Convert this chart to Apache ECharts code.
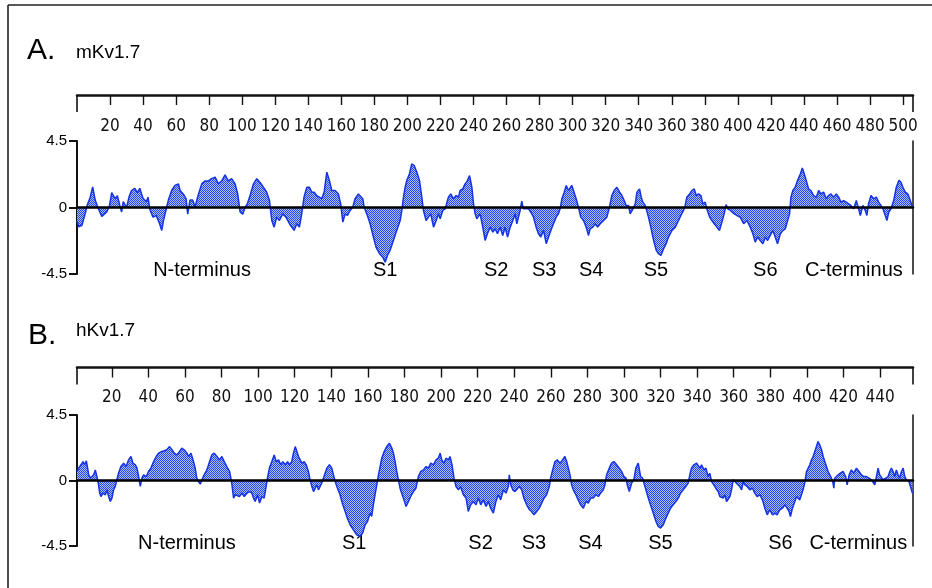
<!DOCTYPE html>
<html><head><meta charset="utf-8">
<script src="https://cdn.jsdelivr.net/npm/echarts@6/dist/echarts.min.js"></script>
<style>html,body{margin:0;padding:0;background:#fff}#c{width:932px;height:588px}</style>
</head><body><div id="c"></div>
<script>
// ---------- DATA ----------
const titleA = 'mKv1.7', titleB = 'hKv1.7';
const rangeA = [0, 506], rangeB = [1, 458];
const ticksA = [20,40,60,80,100,120,140,160,180,200,220,240,260,280,300,320,340,360,380,400,420,440,460,480,500];
const ticksB = [20,40,60,80,100,120,140,160,180,200,220,240,260,280,300,320,340,360,380,400,420,440];
const segNames = ['N-terminus','S1','S2','S3','S4','S5','S6','C-terminus'];
const segPosA = [75.7,186.5,253.7,282.8,311.2,350.4,416.6,470.2];
const segPosB = [61.1,152.5,221.6,250.8,281.7,319.9,385.5,428.1];
// hydropathy profile [residue, score]
const profileA = [[0,-0.9],[1,-1.3],[3,-1.2],[5,-0.4],[6,0.1],[8,0.7],[9.5,1.4],[11,0.5],[13,-0.1],[15,-0.6],[16,-0.7],[18,-0.3],[19.6,0.1],[21,1.0],[23,0.6],[24.4,0.8],[26,0.1],[27,-0.3],[28,0.4],[30,0.0],[31.7,0.8],[33,1.15],[35,1.3],[36.5,1.0],[38,1.3],[40,0.6],[42,0.4],[43,0.7],[44,-0.1],[46,-0.65],[48,-0.55],[50,-1.1],[51.3,-1.55],[52.3,-0.9],[54,-0.1],[55.3,0.5],[57.3,1.15],[59.3,1.5],[61.4,1.6],[62.4,1.15],[64.4,0.9],[66,0.6],[67,-0.45],[68.4,0.5],[70,0.5],[71.5,0.05],[73.5,0.9],[75.5,1.6],[77.5,1.8],[79.5,1.8],[81.5,1.95],[83.6,2.05],[85.6,1.6],[87.6,1.8],[89.6,2.2],[91.6,1.8],[93.6,1.95],[95.7,1.6],[97.3,0.9],[98.7,-0.3],[100.3,-0.45],[101.7,0.0],[103.1,0.25],[104.7,0.8],[106.8,1.6],[108.8,1.95],[110.8,1.7],[112.8,1.37],[114.8,1.04],[116.5,0.47],[117.9,-0.88],[119.3,-1.33],[120.9,-0.65],[122.5,-0.88],[124.5,-0.43],[126.5,-0.65],[128.6,-1.1],[130,-1.33],[131.4,-1.55],[133,-1.1],[134.6,-1.33],[136,-0.43],[137.4,0.7],[139.1,1.37],[140.7,1.37],[142.1,1.04],[143.5,1.04],[145.1,0.81],[146.7,0.7],[148.1,0.59],[149.6,1.04],[151.2,2.39],[152.8,1.82],[154.2,1.15],[156.2,1.15],[158.2,0.92],[159.6,0.25],[160.9,-0.99],[162.3,-0.43],[163.7,-0.54],[165.3,-0.2],[166.9,0.02],[168.3,0.59],[170.3,0.92],[171.3,0.81],
[173,0.59],[173.8,0.02],[175.4,-0.43],[177.4,-1.1],[179.4,-2.0],[181,-2.68],[183.1,-3.13],[185.1,-3.36],[186.5,-3.7],[187.9,-3.25],[189.5,-2.9],[191.5,-2.23],[193.5,-1.55],[195.6,-0.88],[196.6,-0.2],[197.6,0.7],[198.6,1.37],[199.6,1.82],[201.2,2.27],[202.6,2.95],[204.1,2.84],[205.7,2.39],[207.3,1.82],[208.7,0.7],[209.7,-0.2],[211.3,-0.88],[212.7,-0.65],[214.1,-0.43],[215.8,-1.33],[217.4,-0.88],[218.8,-0.43],[219.8,-0.77],[221.4,-0.2],[222.8,-0.09],[223.8,0.02],[224.8,0.7],[226.2,0.92],[227.9,0.59],[229.5,0.81],[230.9,0.7],[231.9,1.15],[233.5,1.26],[234.9,1.6],[236.3,1.82],[237.6,2.16],[239,1.37],[240,0.25],[241,-0.43],[242,-0.77],[244,-0.43],[245.6,-1.33],[247,-2.23],[248.4,-1.78],[250.1,-1.33],[251.7,-1.67],[253.1,-1.44],[254.5,-1.78],[256.1,-1.33],[257.7,-1.89],[259.1,-1.33],[260.6,-2.0],[262.2,-1.33],[263.8,-0.88],[265.2,-0.43],[266.2,-1.1],[267.2,-0.65],[268.2,-0.2],[269.2,0.43],[270.2,-0.09],[271.3,-0.2],[273.3,-0.09],[274.7,-0.32],[276.3,-0.65],[277.9,-1.33],[279.3,-1.78],[280.7,-2.0],[282.4,-1.55],[284,-2.45],[285.4,-2.0],[286.8,-1.55],[288.4,-1.1],[290,-0.65],[291.4,-0.43],[292.4,-0.09],[293.5,0.59],[294.9,1.04],[296.1,1.49],[297.5,1.15],[299.5,1.49],[300.5,1.15],[302.1,0.59],[303.5,0.02],[304.9,-0.65],[306.6,-0.88],[308.2,-1.33],[309.6,-1.89],[310.6,-1.44],[312.2,-1.33],[313.6,-1.1],[315.1,-1.33],[316.7,-1.1],[318.7,-0.88],[320.7,-0.65],[322.3,0.02],[323.7,0.81],[325.1,1.15],[326.8,1.37],[328.4,1.04],[329.8,0.81],[331.2,0.47],[332.4,0.14],[333.8,0.14],[334.8,-0.43],[336.5,-0.09],[337.9,0.25],[338.9,1.04],[340.5,1.26],
[341.5,0.7],[342.5,0.36],[343.9,0.14],[344.5,-0.09],[345.9,-0.65],[347.3,-1.33],[349,-2.23],[350.6,-2.9],[352,-3.13],[353.4,-3.25],[355,-2.8],[356.6,-2.45],[358,-2.0],[360.1,-1.55],[362.1,-1.33],[364.1,-0.88],[365.5,-0.54],[367.1,-0.2],[368.1,0.14],[369.1,0.7],[370.8,0.92],[372.2,1.15],[373.6,1.26],[374.8,0.81],[376.2,0.92],[377.6,0.81],[378.8,0.25],[380.2,0.36],[381.2,-0.09],[382.9,-0.65],[384.3,-0.88],[385.7,-1.1],[387.3,-1.33],[388.9,-1.55],[390.3,-1.0],[391.7,-0.43],[392.9,0.2],[393.9,-0.09],[395.4,-0.2],[396.4,-0.32],[397.8,-0.43],[399.4,-0.54],[401.4,-0.65],[403.5,-1.1],[405.5,-0.88],[407.5,-1.33],[409.1,-1.78],[410.5,-2.34],[411.9,-2.0],[413.5,-2.23],[415.2,-2.45],[416.6,-2.0],[418,-2.23],[419.6,-1.89],[421.2,-1.55],[422.6,-2.0],[424,-2.45],[425.7,-1.78],[427.3,-1.55],[428.7,-1.44],[430.1,-0.88],[431.3,-0.43],[432.1,0.7],[433.3,1.15],[434.7,1.37],[436.1,1.82],[437.8,2.27],[439,2.68],[440.2,2.27],[441.4,1.82],[442.8,1.26],[444.2,1.15],[445.8,0.81],[447.5,0.7],[448.9,1.15],[450.3,0.92],[451.9,1.04],[453.5,0.59],[454.9,0.81],[456.3,0.92],[457.9,0.7],[459.6,0.92],[461,0.7],[462.4,0.36],[464,0.47],[465.6,0.36],[467,0.25],[468.4,0.14],[470.1,-0.09],[471.7,0.47],[473.1,-0.09],[474.1,-0.54],[475.7,0.14],[477.1,-0.2],[478.1,-0.54],[479.1,0.25],[480.6,0.81],[482.2,0.59],[483.8,0.7],[485.2,0.36],[486.6,0.14],[487.8,-0.09],[489.2,-0.54],[490.2,-0.88],[491.3,-0.32],[492.7,-0.09],[494.3,0.47],[495.9,1.37],[497.5,1.85],[498.7,1.71],[499.9,1.37],[501.3,1.04],[502.8,0.92],[504,0.59],[505.4,0.14],[506,0.02]];
const profileB = [[1,0.62],[1.9,0.85],[3.2,1.08],[4.3,1.3],[5.2,1.08],[6.1,1.35],[6.8,0.85],[7.4,0.39],[8.3,0.16],[9.2,0.05],[10.1,0.39],[11,0.73],[11.9,0.27],[12.8,-0.3],[13.4,-0.87],[14.1,-1.1],[15.2,-0.87],[16.5,-0.98],[17.4,-0.64],[18.3,-1.1],[19.2,-1.44],[20.1,-1.21],[21,-0.64],[21.9,-0.41],[22.8,0.05],[23.7,0.5],[25,0.96],[26.5,1.19],[27.9,0.96],[29.2,1.42],[30.5,1.65],[31.6,1.19],[32.9,1.08],[33.8,0.85],[34.7,0.27],[35.6,-0.41],[36.5,0.16],[37.4,0.39],[38.9,0.27],[40.1,0.62],[41.4,0.85],[42.9,1.3],[44.3,1.65],[45.6,1.88],[47.4,1.99],[48.7,2.04],[50.1,2.11],[51.6,2.33],[52.9,2.11],[54.2,1.88],[55.6,1.76],[57.1,1.99],[58.3,2.22],[59.6,2.11],[61.1,1.88],[62,1.65],[63.3,1.88],[64.7,1.3],[65.6,0.85],[66.5,0.16],[67.4,-0.07],[68.4,-0.25],[69.3,0.05],[70.5,0.39],[72,0.73],[73.5,1.3],[74.7,1.76],[76,1.88],[77.5,1.65],[78.9,1.42],[80.2,1.65],[81.5,1.3],[82.9,0.96],[84.4,0.62],[85.1,0.16],[85.7,-0.3],[86.6,-1.21],[87.5,-0.98],[88.4,-0.87],[89.8,-1.1],[91.1,-0.87],[92.4,-1.1],[93.9,-0.87],[95.3,-0.76],[96.6,-0.87],[97.5,-1.21],[98.4,-1.44],[99.7,-0.98],[100.8,-1.55],[102.1,-1.1],[103.3,-1.21],[104.4,-0.41],[105.1,0.16],[106.2,0.85],[107.5,1.3],[108.8,1.76],[109.9,1.3],[111.2,1.42],[112.4,1.08],[113.5,1.3],[114.8,1.08],[116.1,1.3],[117.2,1.08],[118.4,1.3],[119.3,1.88],[120.3,2.33],[121.2,1.99],[122.1,1.65],[123,1.42],[123.9,1.19],[125.2,1.3],[126.3,1.08],[127.5,0.62],[128.4,0.05],[129.4,-0.41],[130.3,-0.76],[131.2,-0.53],[132.1,-0.3],[133,-0.64],[133.9,-0.41],[134.8,-0.18],[135.7,0.16],[136.6,0.5],[137.6,0.85],[139,1.08],[140.3,0.85],[141.2,0.39],[142.1,-0.07],[143.4,-0.53],[144.8,-0.98],[146.3,-1.67],[147.6,-2.13],[148.8,-2.59],[150.3,-3.04],[152.1,-3.39],[153.9,-3.73],[155.8,-3.84],
[157.2,-3.59],[158.5,-3.04],[159.8,-2.82],[161.2,-2.24],[162.1,-2.47],[163,-1.67],[163.9,-0.98],[164.9,-0.3],[165.8,0.39],[166.7,0.96],[167.6,1.53],[168.9,1.99],[170.3,2.33],[171.8,2.56],[173.1,2.22],[174,1.88],[174.9,1.3],[175.8,0.62],[176.7,0.05],[177.6,-0.53],[178.5,-0.87],[179.4,-1.21],[180.9,-1.78],[182.2,-1.44],[183.4,-1.1],[184.9,-0.76],[186.3,-0.53],[187.6,0.27],[188.9,0.62],[190.4,0.73],[191.8,0.96],[193.1,0.85],[194.4,1.19],[195.8,1.08],[197.3,1.42],[198.5,1.53],[199.5,1.88],[200.4,1.42],[201.6,1.19],[202.7,1.53],[204,1.42],[204.9,1.65],[206,1.08],[207.1,0.16],[208.2,-0.41],[209.5,-0.64],[210.7,-0.41],[212.2,-0.98],[213.7,-1.21],[214.9,-2.13],[216.2,-1.67],[217.7,-1.44],[219.1,-1.67],[220.4,-1.21],[221.7,-1.67],[223.1,-1.33],[224.6,-1.78],[225.9,-1.44],[227.1,-1.9],[228.6,-2.24],[230,-1.44],[231.3,-0.98],[232.6,-1.33],[234.1,-0.64],[235.5,-0.87],[236.8,-0.41],[237.3,0.39],[238.1,-0.3],[239.2,-0.64],[240.4,-0.76],[241.3,-0.87],[242.8,-0.41],[244.1,-0.64],[245.3,-1.21],[246.8,-1.67],[248.3,-2.01],[249.5,-2.13],[250.8,-2.36],[252.3,-2.13],[253.7,-1.9],[255,-1.55],[256.3,-1.21],[257.7,-0.98],[259.2,-0.41],[259.9,0.16],[261,0.73],[262.3,1.3],[263.6,1.42],[265,1.19],[266.5,1.42],[267.7,1.65],[268.7,1.3],[269.6,0.85],[270.5,0.39],[271.4,-0.3],[272.3,-0.64],[273.7,-0.98],[275,-1.33],[276.3,-1.67],[277.8,-1.9],[279.2,-1.44],[280.5,-1.55],[281.8,-1.21],[283.2,-1.21],[284.7,-0.98],[286,-1.1],[287.2,-0.87],[288.7,-0.64],[289.6,-0.3],[290.5,0.39],[292,0.85],[293.2,1.19],[294.5,1.3],[296,1.08],[297.4,0.85],[298.7,0.62],[300,0.27],[301.1,0.16],[301.8,-0.3],[302.9,-0.76],[304.2,-0.18],[305.4,0.05],[306.5,0.85],[307.8,1.19],[308.7,1.3],
[309.1,0.27],[310.2,0.16],[310.9,-0.18],[312,-0.64],[313.3,-1.21],[314.5,-1.67],[316,-2.24],[317.5,-2.82],[318.7,-3.16],[320,-3.27],[321.5,-3.04],[322.9,-2.59],[324.2,-2.24],[325.5,-1.9],[326.9,-1.67],[328.4,-1.44],[329.7,-1.21],[330.9,-0.87],[332.4,-0.64],[333.8,-0.41],[335.1,-0.18],[336,0.39],[336.9,0.85],[338.2,1.08],[339.7,1.19],[340.6,1.3],[341.5,0.85],[342.4,1.08],[343.7,0.73],[344.8,0.85],[346,0.27],[346.9,0.5],[347.9,-0.07],[349.1,-0.3],[350.2,-0.53],[351.5,-0.76],[352.4,-1.1],[353.3,-0.98],[354.2,-1.21],[355.1,-0.98],[356.1,-1.44],[357,-1.55],[357.9,-1.1],[358.8,-0.64],[359.7,0.05],[360.6,-0.07],[361.5,-0.18],[362.4,-0.07],[363.3,-0.41],[364.3,-0.64],[365.2,-0.07],[366.1,-0.3],[367.3,-0.41],[368.8,-0.64],[370.3,-0.53],[371.5,-0.87],[372.8,-1.1],[374.3,-0.98],[375.7,-1.33],[377,-1.9],[378.3,-2.36],[379.7,-2.01],[381.2,-2.36],[382.5,-2.24],[383.7,-2.36],[385.2,-2.01],[386.7,-1.9],[387.9,-1.67],[389.2,-1.9],[390.3,-2.13],[391,-2.47],[392.1,-1.9],[393.4,-1.44],[394.3,-1.1],[395.2,-0.98],[396.1,-1.33],[397,-0.98],[397.9,-0.64],[398.8,-0.18],[399.8,0.62],[400.7,0.85],[401.6,1.08],[402.5,1.42],[403.4,1.65],[404.3,1.99],[405.2,2.33],[406.1,2.68],[407,2.45],[408,2.11],[408.9,1.65],[409.8,1.3],[410.7,0.96],[411.6,0.62],[412.5,0.39],[413.4,0.16],[414.3,-0.18],[414.7,-0.53],[415.2,0.16],[416.1,0.27],[417.1,0.39],[418.3,0.5],[419.8,0.62],[421.2,0.27],[422,-0.3],[423.1,0.39],[424.3,0.73],[425.6,0.5],[427.1,0.85],[428.5,0.62],[429.8,0.39],[431.1,0.27],[432.5,0.27],[434,0.16],[435.3,0.05],[436.2,-0.07],[437.1,-0.3],[438,0.27],[438.9,0.85],[439.8,0.39],[440.7,0.27],[441.6,0.05],[443.1,0.16],[444.4,0.27],[445.3,0.62],[446.2,0.85],[447.1,0.62],[448,0.27],[448.9,0.73],[449.8,0.39],[450.7,0.16],[451.7,0.62],[452.6,0.85],[453.5,0.27],[454.4,0.05],[455.8,-0.07],[456.6,-0.41],[457.7,-0.87]];

// ---------- CHART ----------
const chart = echarts.init(document.getElementById('c'), null, {renderer: 'canvas'});
const pat = document.createElement('canvas'); pat.width = 2; pat.height = 2;
const pc = pat.getContext('2d');
pc.fillStyle = '#aebcf8'; pc.fillRect(0, 0, 2, 2);
pc.fillStyle = '#2446ee'; pc.fillRect(0, 0, 1, 1); pc.fillRect(1, 1, 1, 1);

const SANS = 'Liberation Sans, Arial, sans-serif';
const NARROW = 'Liberation Sans Narrow, DejaVu Sans Condensed, Arial Narrow, sans-serif';
const LINE = '#1433e2';

const grids = [
  {left: 77, right: 19, top: 141, height: 133},
  {left: 77, right: 19, top: 415, height: 131}
];
function xAxes(gi, yi, range, ticks, offset, labelMargin) {
  return [
    {gridIndex: gi, type: 'value', min: range[0], max: range[1], position: 'top', offset: offset,
     axisLine: {onZero: false, lineStyle: {color: '#111', width: 2.5}},
     axisTick: {show: true, inside: true, length: 10, customValues: ticks, lineStyle: {color: '#111', width: 1.4}},
     axisLabel: {show: true, inside: true, customValues: ticks, margin: labelMargin, verticalAlign: 'middle',
                 color: '#111', fontFamily: NARROW, fontSize: 17},
     splitLine: {show: false}},
    {gridIndex: gi, type: 'value', min: range[0], max: range[1], position: 'top', offset: offset,
     axisLine: {show: false, onZero: false},
     axisTick: {show: true, inside: true, length: 17, customValues: range, lineStyle: {color: '#111', width: 1.6}},
     axisLabel: {show: false}, splitLine: {show: false}},
    {gridIndex: gi, type: 'value', min: range[0], max: range[1], position: 'bottom', z: 10,
     axisLine: {onZero: true, onZeroAxisIndex: yi, lineStyle: {color: '#000', width: 2.5}},
     axisTick: {show: false}, axisLabel: {show: false}, splitLine: {show: false}}
  ];
}
function yAxes(gi) {
  return [
    {gridIndex: gi, type: 'value', min: -4.5, max: 4.5, interval: 4.5, position: 'left',
     axisLine: {show: true, onZero: false, lineStyle: {color: '#111', width: 2}},
     axisTick: {show: true, length: 8, lineStyle: {color: '#111', width: 2}},
     axisLabel: {margin: 10, color: '#000', fontFamily: SANS, fontSize: 15},
     splitLine: {show: false}},
    {gridIndex: gi, type: 'value', min: -4.5, max: 4.5, position: 'right',
     axisLine: {show: true, onZero: false, lineStyle: {color: '#111', width: 1.5}},
     axisTick: {show: false}, axisLabel: {show: false}, splitLine: {show: false}}
  ];
}
function profileSeries(xi, yi, data) {
  return {type: 'line', xAxisIndex: xi, yAxisIndex: yi, data: data, symbol: 'none', silent: true,
          lineStyle: {color: LINE, width: 1.5}, itemStyle: {color: LINE},
          areaStyle: {color: {image: pat, repeat: 'repeat'}, opacity: 1}, z: 2, animation: false};
}

const option = {
  animation: false,
  backgroundColor: '#fff',
  grid: grids,
  xAxis: [].concat(xAxes(0, 0, rangeA, ticksA, 46, 32), xAxes(1, 2, rangeB, ticksB, 47.5, 30)),
  yAxis: [].concat(yAxes(0), yAxes(1)),
  series: [
    profileSeries(0, 0, profileA),
    profileSeries(3, 2, profileB)
  ]
};
chart.setOption(option);

// segment labels placed through the axes' own scales
function segTexts(xi, yi, pos, yv) {
  return segNames.map((n, i) => {
    const p = chart.convertToPixel({xAxisIndex: xi, yAxisIndex: yi}, [pos[i], yv]);
    return {type: 'text', x: p[0], y: p[1],
            style: {text: n, font: '20px ' + SANS, fill: '#000', align: 'center', verticalAlign: 'middle'}};
  });
}
chart.setOption({
  graphic: [
    {type: 'line', shape: {x1: 8, y1: 5, x2: 932, y2: 5}, style: {stroke: '#222', lineWidth: 1.6}},
    {type: 'line', shape: {x1: 8, y1: 5, x2: 8, y2: 588}, style: {stroke: '#222', lineWidth: 1.6}},
    {type: 'text', left: 27, top: 36, style: {text: 'A.', font: '30px ' + SANS, fill: '#000'}},
    {type: 'text', left: 76, top: 43, style: {text: titleA, font: '19px ' + SANS, fill: '#000'}},
    {type: 'text', left: 28, top: 321, style: {text: 'B.', font: '30px ' + SANS, fill: '#000'}},
    {type: 'text', left: 76, top: 321, style: {text: titleB, font: '19px ' + SANS, fill: '#000'}}
  ].concat(segTexts(0, 0, segPosA, -4.28), segTexts(3, 2, segPosB, -4.32))
});
</script>
</body></html>
